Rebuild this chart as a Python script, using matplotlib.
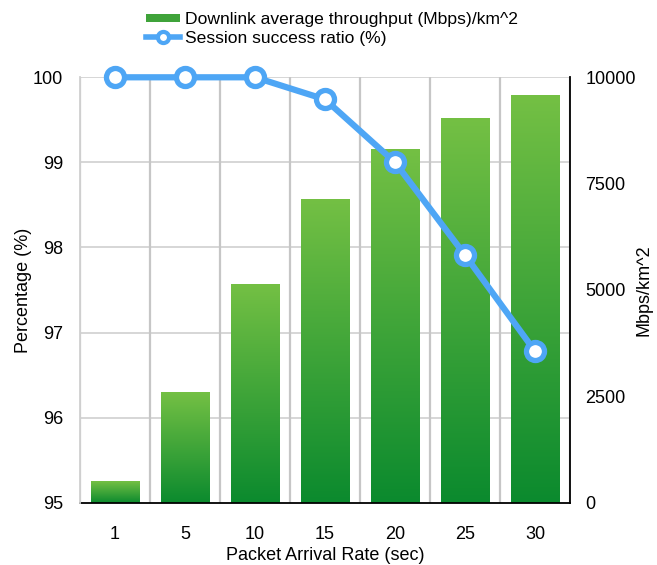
import numpy as np
import matplotlib
matplotlib.use("Agg")
import matplotlib.pyplot as plt
from matplotlib.colors import LinearSegmentedColormap
from matplotlib.lines import Line2D
from matplotlib.patches import Patch

plt.rcParams["font.family"] = ["Liberation Sans", "DejaVu Sans"]

# Data
rates = ["1", "5", "10", "15", "20", "25", "30"]
throughput = [510, 2600, 5150, 7150, 8310, 9050, 9580]          # Mbps/km^2
success = [100.0, 100.0, 100.0, 99.74, 99.0, 97.91, 96.78]      # %
pct_ticks = [95, 96, 97, 98, 99, 100]
thr_ticks = [0, 2500, 5000, 7500, 10000]

BLUE = "#4ea6f5"
GREEN_TOP = "#74c044"
GREEN_BOTTOM = "#0b8a2e"
FS = 13
FS_LEG = 12.6

fig = plt.figure(figsize=(6.57, 5.65), dpi=100)
ax = fig.add_axes([0.1218, 0.1103, 0.7458, 0.7529])
ax2 = ax.twinx()

x = np.arange(len(rates))
pct_min, pct_max = pct_ticks[0], pct_ticks[-1]
thr_max = thr_ticks[-1]

# Gradient-filled bars (throughput, right axis)
bars = ax.bar(x, throughput, width=0.7, color="none", edgecolor="none", zorder=2)
cmap = LinearSegmentedColormap.from_list("greens", [GREEN_BOTTOM, GREEN_TOP])
grad = np.linspace(0, 1, 256).reshape(-1, 1)
for b in bars:
    x0, y0, w, h = b.get_x(), b.get_y(), b.get_width(), b.get_height()
    im = ax.imshow(grad, extent=(x0, x0 + w, y0, y0 + h), origin="lower",
                   cmap=cmap, aspect="auto", zorder=2, interpolation="bicubic")
    im.set_clip_path(b)

ax.set_xlim(-0.5, len(rates) - 0.5)
ax.set_ylim(0, thr_max)

# Grid: horizontal lines at the percentage ticks, vertical lines between categories
scale = thr_max / (pct_max - pct_min)
for p in pct_ticks[1:]:
    ax.axhline((p - pct_min) * scale, color="#d6d6d6", lw=1.4, zorder=0)
for xb in np.arange(-0.5, len(rates), 1.0):
    ax.axvline(xb, color="#c6c6c6", lw=1.6, zorder=0)

ax.set_xticks(x)
ax.set_xticklabels(rates, fontsize=FS)
ax.yaxis.tick_right()
ax.yaxis.set_label_position("right")
ax.set_yticks(thr_ticks)
ax.set_yticklabels([str(t) for t in thr_ticks], fontsize=FS)
ax.tick_params(axis="both", length=0)
ax.tick_params(axis="x", pad=16.5)
ax.tick_params(axis="y", pad=11)
ax.set_xlabel("Packet Arrival Rate (sec)", fontsize=FS, labelpad=3.5)
ax.set_ylabel("Mbps/km^2", fontsize=FS, labelpad=0)

for side in ("top", "left"):
    ax.spines[side].set_visible(False)
for side in ("right", "bottom"):
    ax.spines[side].set_color("black")
    ax.spines[side].set_linewidth(1.3)

# Success ratio line (left axis)
ax2.yaxis.tick_left()
ax2.yaxis.set_label_position("left")
ax2.set_ylim(pct_min, pct_max)
ax2.set_yticks(pct_ticks)
ax2.set_yticklabels([str(t) for t in pct_ticks], fontsize=FS)
ax2.tick_params(axis="y", length=0, pad=12)
ax2.set_ylabel("Percentage (%)", fontsize=FS, labelpad=0.5)
for side in ("top", "right", "bottom"):
    ax2.spines[side].set_visible(False)
ax2.spines["left"].set_color("#d0d0d0")
ax2.spines["left"].set_linewidth(1.3)

ax2.plot(x, success, color=BLUE, lw=4.5, marker="o", ms=13, mfc="white",
         mec=BLUE, mew=3.8, zorder=3, clip_on=False)

# Legend above the plot
handles = [
    Patch(facecolor="#3fa33a", edgecolor="none"),
    Line2D([], [], color=BLUE, lw=4, marker="o", ms=8, mfc="white", mec=BLUE, mew=3),
]
labels = ["Downlink average throughput (Mbps)/km^2", "Session success ratio (%)"]
fig.legend(handles, labels, loc="upper left", bbox_to_anchor=(134 / 657, 1 - 0 / 565),
           frameon=False, fontsize=FS_LEG, handlelength=1.95, handleheight=0.4,
           handletextpad=0.25, labelspacing=0.2, borderpad=0.2)

fig.savefig("out.png", dpi=100)
